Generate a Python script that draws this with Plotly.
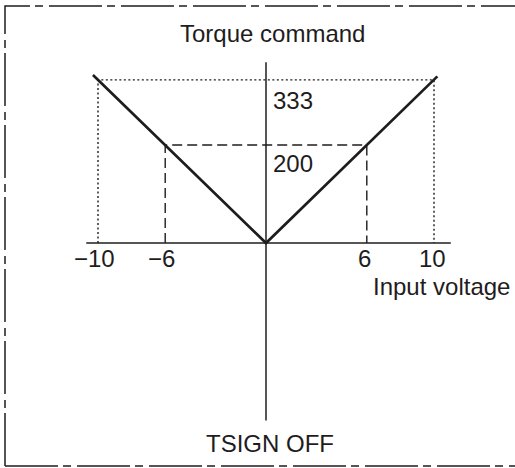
import plotly.graph_objects as go

# Torque command versus input voltage (TSIGN OFF): V-shaped characteristic
v_line_x = [-10.3, 0, 10.2]
v_line_y = [343, 0, 340]

# Reference levels marked on the diagram
full_v = 10          # input voltage at full command
full_t = 333         # torque command at full input
mid_v = 6
mid_t = 200

x_ticks = [-10, -6, 6, 10]
x_tick_text = ["\u221210", "\u22126", "6", "10"]

# Extent of the drawn axes (data units)
x_axis_span = [-10.7, 11.0]
y_axis_span = [-362, 369]

W, H = 515, 468
INK = "#1f1c1d"
FONT = dict(family="Liberation Sans, Arial, sans-serif", size=24, color=INK)

fig = go.Figure()

# axes
fig.add_trace(go.Scatter(x=x_axis_span, y=[0, 0], mode="lines",
                         line=dict(color=INK, width=1.5), hoverinfo="skip"))
fig.add_trace(go.Scatter(x=[0, 0], y=y_axis_span, mode="lines",
                         line=dict(color=INK, width=1.5), hoverinfo="skip"))

# dotted guide box for the full-scale point
fig.add_trace(go.Scatter(x=[-full_v, -full_v, full_v, full_v],
                         y=[0, full_t, full_t, 0], mode="lines",
                         line=dict(color=INK, width=1.4, dash="2px,2.5px"),
                         hoverinfo="skip"))
# dashed guide box for the mid point
fig.add_trace(go.Scatter(x=[-mid_v, -mid_v, mid_v, mid_v],
                         y=[0, mid_t, mid_t, 0], mode="lines",
                         line=dict(color=INK, width=1.4, dash="10px,5px"),
                         hoverinfo="skip"))

# characteristic
fig.add_trace(go.Scatter(x=v_line_x, y=v_line_y, mode="lines",
                         line=dict(color=INK, width=2.7), hoverinfo="skip"))

ann = []
for xv, txt in zip(x_ticks, x_tick_text):
    ann.append(dict(x=xv, y=0, xref="x", yref="y", text=txt, showarrow=False,
                    xanchor="center", yanchor="middle", yshift=-15,
                    xshift=-4 if xv < 0 else -2, font=FONT))
ann.append(dict(x=0, y=full_t, xref="x", yref="y", text=str(full_t),
                showarrow=False, xanchor="left", yanchor="middle",
                xshift=5, yshift=-21, font=FONT))
ann.append(dict(x=0, y=mid_t, xref="x", yref="y", text=str(mid_t),
                showarrow=False, xanchor="left", yanchor="middle",
                xshift=5, yshift=-18, font=FONT))
ann.append(dict(x=441 / W, y=1 - 286 / H, xref="paper", yref="paper",
                text="Input voltage", showarrow=False, xanchor="center",
                yanchor="middle", font=FONT))
ann.append(dict(x=272.5 / W, y=1 - 34 / H, xref="paper", yref="paper",
                text="Torque command", showarrow=False, xanchor="center",
                yanchor="middle", font=FONT))
ann.append(dict(x=270 / W, y=1 - 443 / H, xref="paper", yref="paper",
                text="TSIGN OFF", showarrow=False, xanchor="center",
                yanchor="middle", font=FONT))

# dash-dot frame (left, top, bottom edges)
frame_dash = "53px,5px,8px,6px"
left, top, bottom = 5 / W, 1 - 6 / H, 1 - 466 / H
shapes = [
    dict(type="path", xref="paper", yref="paper",
         path=f"M {left},{bottom} L {left},{top} L 1.01,{top}",
         line=dict(color=INK, width=1.5, dash=frame_dash)),
    dict(type="line", xref="paper", yref="paper",
         x0=left, y0=bottom, x1=1.01, y1=bottom,
         line=dict(color=INK, width=1.5, dash=frame_dash)),
]

# axis scaling: 16.8 px per volt, 0.49 px per torque unit, origin at (266, 243)
px_x, px_y = 16.8, 0.49
ox, oy = 266, 243
fig.update_layout(
    width=W, height=H,
    margin=dict(l=0, r=0, t=0, b=0),
    paper_bgcolor="white", plot_bgcolor="white",
    showlegend=False,
    xaxis=dict(range=[-ox / px_x, (W - ox) / px_x], visible=False, fixedrange=True),
    yaxis=dict(range=[(oy - H) / px_y, oy / px_y], visible=False, fixedrange=True),
    annotations=ann,
    shapes=shapes,
)

fig.write_html("out.html")
